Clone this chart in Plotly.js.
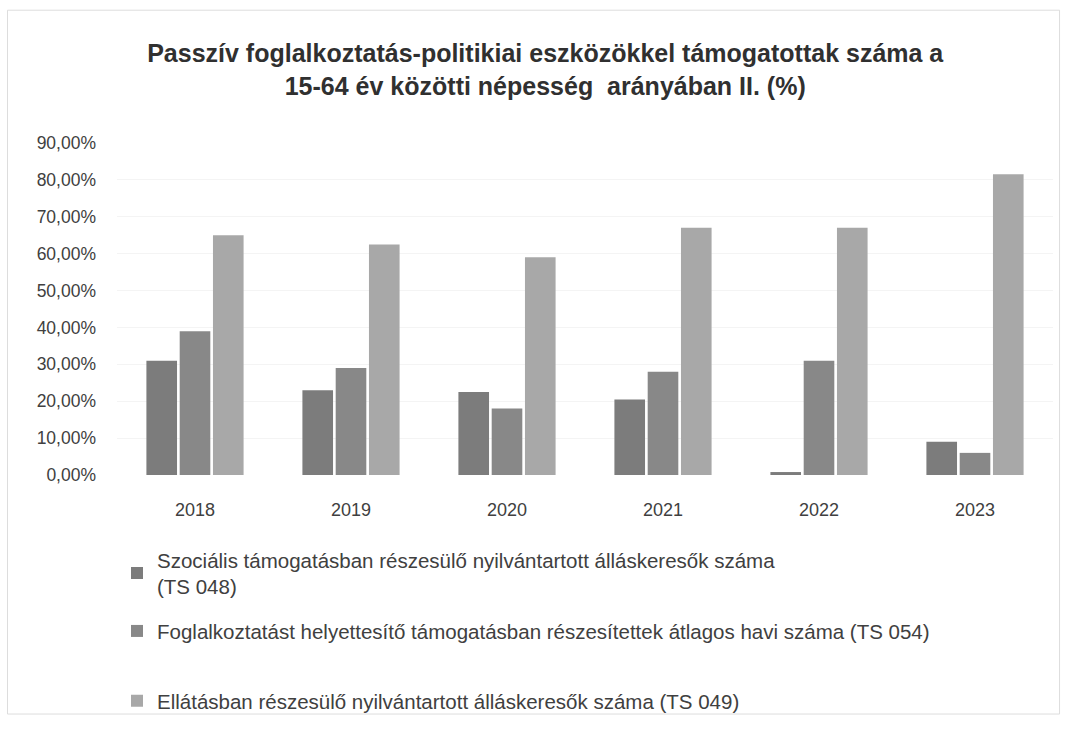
<!DOCTYPE html>
<html><head><meta charset="utf-8">
<script src="https://cdn.plot.ly/plotly-3.0.1.min.js"></script>
<style>html,body{margin:0;padding:0;background:#fff}#chart{width:1067px;height:733px}</style>
</head><body><div id="chart"></div>
<script>
const years = ['2018','2019','2020','2021','2022','2023'];
const seriesNames = [
  'Szociális támogatásban részesülő nyilvántartott álláskeresők száma<br>(TS 048)',
  'Foglalkoztatást helyettesítő támogatásban részesítettek átlagos havi száma (TS 054)',
  'Ellátásban részesülő nyilvántartott álláskeresők száma (TS 049)'
];
const ts048 = [0.31, 0.23, 0.225, 0.205, 0.008, 0.09];
const ts054 = [0.39, 0.29, 0.18, 0.28, 0.31, 0.06];
const ts049 = [0.65, 0.625, 0.59, 0.67, 0.67, 0.815];
const colors = ['#7c7c7c', '#888888', '#a8a8a8'];
const values = [ts048, ts054, ts049];
const legendIds = ['legend', 'legend2', 'legend3'];

const traces = values.map((v, i) => ({
  type: 'bar', x: years, y: v, name: seriesNames[i],
  marker: {color: colors[i]}, legend: legendIds[i]
}));

const legendFont = {family: 'Liberation Sans, Arial, sans-serif', size: 20.5, color: '#404040'};
const legBase = {xref: 'paper', yref: 'paper', xanchor: 'left', yanchor: 'top', bgcolor: 'rgba(0,0,0,0)', font: legendFont, itemwidth: 30};

const layout = {
  width: 1067, height: 733,
  paper_bgcolor: '#ffffff', plot_bgcolor: '#ffffff',
  separators: ', ',
  margin: {l: 117, r: 14, t: 143, b: 253},
  title: {
    text: '<b>Passzív foglalkoztatás-politikiai eszközökkel támogatottak száma a<br>15-64 év közötti népesség  arányában II. (%)</b>',
    font: {family: 'Liberation Sans, Arial, sans-serif', size: 25, color: '#303030'},
    x: 0.511, xref: 'container', xanchor: 'center', y: 0.915, yanchor: 'top'
  },
  barmode: 'group', bargap: 0.36, bargroupgap: 0.08,
  xaxis: {
    type: 'category', showgrid: false, showline: false, zeroline: false, ticks: '',
    tickfont: {family: 'Liberation Sans, Arial, sans-serif', size: 18, color: '#404040'},
    ticklabelstandoff: 22
  },
  yaxis: {
    range: [0, 0.9], dtick: 0.1, tickformat: '.2%',
    showgrid: true, gridcolor: '#f4f4f4', zeroline: false, showline: false,
    tickfont: {family: 'Liberation Sans, Arial, sans-serif', size: 17.5, color: '#404040'},
    ticklabelstandoff: 20
  },
  showlegend: true,
  legend: Object.assign({}, legBase, {x: 0.0, y: -0.195}),
  legend2: Object.assign({}, legBase, {x: 0.0, y: -0.41}),
  legend3: Object.assign({}, legBase, {x: 0.0, y: -0.62}),
  shapes: [{type: 'rect', xref: 'paper', yref: 'paper', x0: -0.117, x1: 1.007, y0: -0.72, y1: 1.4,
    line: {color: '#dddddd', width: 1}}]
};

Plotly.newPlot('chart', traces, layout, {displayModeBar: false});
</script></body></html>
